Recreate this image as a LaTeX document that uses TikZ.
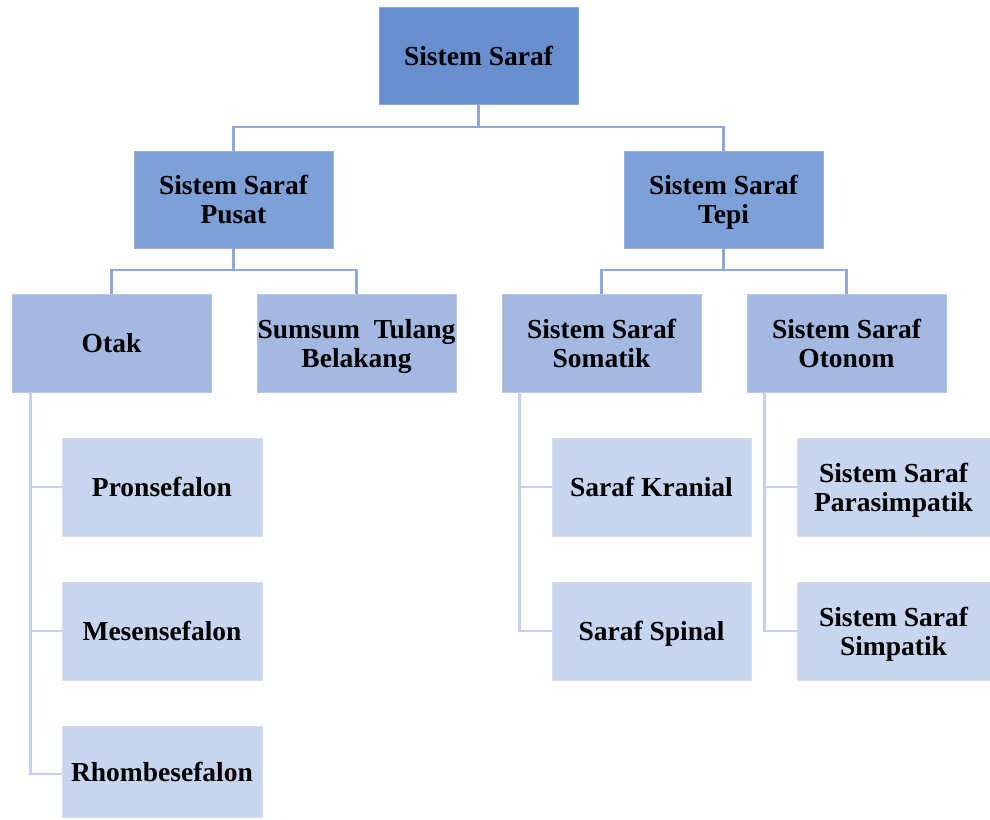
\documentclass[tikz,border=0pt]{standalone}
\usepackage{fontspec}
\setmainfont{Liberation Serif}
\usetikzlibrary{calc}
\definecolor{lvlzero}{RGB}{104,142,207}
\definecolor{lvlone}{RGB}{126,160,216}
\definecolor{lvltwo}{RGB}{163,185,225}
\definecolor{lvlthree}{RGB}{199,213,238}
\definecolor{linktop}{RGB}{143,168,218}
\definecolor{linklow}{RGB}{197,209,236}
\tikzset{
  box/.style={rectangle, inner sep=0pt, minimum width=199pt, minimum height=97pt,
    align=center, font=\fontsize{27.5}{29}\selectfont\bfseries, text=black},
  boxa/.style={box, fill=lvlzero, draw=lvlzero!80!white, line width=0.6pt},
  boxb/.style={box, fill=lvlone, draw=lvlone!80!white, line width=0.6pt},
  boxc/.style={box, fill=lvltwo, draw=lvltwo!80!white, line width=0.6pt, minimum height=98pt},
  boxd/.style={box, fill=lvlthree, draw=lvlthree!80!white, line width=0.6pt, minimum height=98pt},
  nodesc/.style={text depth=0pt},
  linkhi/.style={draw=linktop, line width=2.8pt},
  linklo/.style={draw=linklow, line width=2.8pt}
}
\begin{document}
\begin{tikzpicture}[x=1pt, y=-1pt]
\useasboundingbox (0,0) rectangle (990,819);

% top level
\node[boxa] (root) at (478.5,55.5) {Sistem Saraf};

% central and peripheral systems
\node[boxb] (pusat) at (233.5,199.5) {Sistem Saraf\\Pusat};
\node[boxb, nodesc] (tepi)  at (723.5,199.5) {Sistem Saraf\\Tepi};

% second level
\node[boxc] (otak)    at (111.5,343) {Otak};
\node[boxc, nodesc] (sumsum)  at (356.5,343) {Sumsum\ \ Tulang\\Belakang};
\node[boxc] (somatik) at (601.5,343) {Sistem Saraf\\Somatik};
\node[boxc] (otonom)  at (846.5,343) {Sistem Saraf\\Otonom};

% brain parts
\node[boxd, minimum width=200pt] (pron)  at (162,487) {Pronsefalon};
\node[boxd, minimum width=200pt] (mes)   at (162,631) {Mesensefalon};
\node[boxd, minimum width=200pt, minimum height=91pt] (rhomb) at (162,771.5) {Rhombesefalon};

% somatic nerves
\node[boxd] (kranial) at (651.5,487) {Saraf Kranial};
\node[boxd, nodesc] (spinal)  at (651.5,631) {Saraf Spinal};

% autonomic branches
\node[boxd, nodesc, minimum width=193pt] (para) at (893.5,487) {Sistem Saraf\\Parasimpatik};
\node[boxd, nodesc, minimum width=193pt] (simp) at (893.5,631) {Sistem Saraf\\Simpatik};

% hierarchy connectors
\coordinate (j0) at (478.5,127);
\coordinate (j1) at (233.5,270);
\coordinate (j2) at (723.5,270);
\draw[linkhi] (root.south) -- (j0);
\draw[linkhi] (pusat.north) |- (j0) -| (tepi.north);
\draw[linkhi] (pusat.south) -- (j1);
\draw[linkhi] (otak.north) |- (j1) -| (sumsum.north);
\draw[linkhi] (tepi.south) -- (j2);
\draw[linkhi] (somatik.north) |- (j2) -| (otonom.north);

% list connectors
\draw[linklo] ($(otak.south west)+(19,4)$) |- (rhomb.west |- 0,774);
\draw[linklo] ($(otak.south west)+(19,0)$) |- (pron.west);
\draw[linklo] ($(otak.south west)+(19,0)$) |- (mes.west);
\draw[linklo] ($(somatik.south west)+(18,4)$) |- (spinal.west);
\draw[linklo] ($(somatik.south west)+(18,0)$) |- (kranial.west);
\draw[linklo] ($(otonom.south west)+(18,4)$) |- (simp.west);
\draw[linklo] ($(otonom.south west)+(18,0)$) |- (para.west);
\end{tikzpicture}
\end{document}
